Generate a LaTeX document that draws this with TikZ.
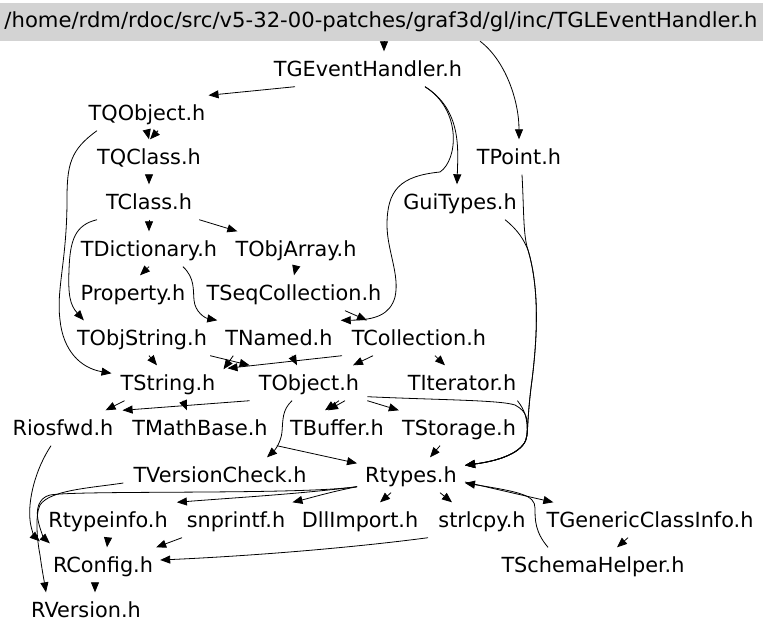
\documentclass[tikz,border=0pt]{standalone}
\usepackage{fontspec}
\usepackage{graphicx}
\setmainfont{DejaVu Sans}
\usetikzlibrary{arrows.meta}
\definecolor{rootgray}{RGB}{211,211,211}
\begin{document}
\begin{tikzpicture}[
	x=1pt, y=-1pt,
	font=\fontsize{20.8}{24}\selectfont,
	hdr/.style={ anchor=base, inner xsep=3pt, inner ysep=2.5pt, text height=22pt, text depth=8pt },
	rootbox/.style={ fill=rootgray, minimum width=764pt, minimum height=38pt, inner sep=0pt, text height=16pt, text depth=5pt },
	inc/.style={ draw, line width=0.8pt, -{Triangle[length=10pt,width=8pt]} }
]
\useasboundingbox (0,0) rectangle (768,632);

% headers are placed on their baselines

\node at (381,22) (file) [rootbox] {\resizebox{753pt}{\height}{/home/rdm/rdoc/src/v5-32-00-patches/graf3d/gl/inc/TGLEventHandler.h}};
\node at (368,76) (tgeh) [hdr] {TGEventHandler.h};
\node at (147,120) (tqobject) [hdr] {TQObject.h};
\node at (149,164) (tqclass) [hdr] {TQClass.h};
\node at (519,164) (tpoint) [hdr] {TPoint.h};
\node at (149,209) (tclass) [hdr] {TClass.h};
\node at (460,209) (guitypes) [hdr] {GuiTypes.h};
\node at (149,256) (tdict) [hdr] {TDictionary.h};
\node at (296,256) (tobjarray) [hdr] {TObjArray.h};
\node at (133,300) (property) [hdr] {Property.h};
\node at (294,300) (tseqcoll) [hdr] {TSeqCollection.h};
\node at (142,345) (tobjstring) [hdr] {TObjString.h};
\node at (279,345) (tnamed) [hdr] {TNamed.h};
\node at (419,345) (tcollection) [hdr] {TCollection.h};
\node at (168,390) (tstring) [hdr] {TString.h};
\node at (309,390) (tobject) [hdr] {TObject.h};
\node at (462,390) (titerator) [hdr] {TIterator.h};
\node at (63,435) (riosfwd) [hdr] {Riosfwd.h};
\node at (200,435) (tmathbase) [hdr] {TMathBase.h};
\node at (337,435) (tbuffer) [hdr] {TBuffer.h};
\node at (459,435) (tstorage) [hdr] {TStorage.h};
\node at (220,482) (tversion) [hdr] {TVersionCheck.h};
\node at (411,482) (rtypes) [hdr] {Rtypes.h};
\node at (108,527) (rtypeinfo) [hdr] {Rtypeinfo.h};
\node at (236,527) (snprintf) [hdr] {snprintf.h};
\node at (360,527) (dllimport) [hdr] {DllImport.h};
\node at (482,527) (strlcpy) [hdr] {strlcpy.h};
\node at (650,527) (tgeneric) [hdr] {TGenericClassInfo.h};
\node at (103,572) (rconfig) [hdr] {RConfig.h};
\node at (593,572) (tschema) [hdr] {TSchemaHelper.h};
\node at (86,617) (rversion) [hdr] {RVersion.h};

\draw[inc] ([xshift=3pt]file.south) to ([xshift=16pt]tgeh.north);
\draw[inc] ([xshift=99pt]file.south) .. controls (505,60) and (519,100) .. (tpoint.north);
\draw[inc] ([xshift=-73pt]tgeh.south) to (tqobject.north east);
\draw[inc] ([xshift=57pt]tgeh.south) .. controls (462,110) and (458,150) .. ([xshift=-3pt]guitypes.north);
\draw[inc] ([xshift=57pt]tgeh.south) .. controls (462,110) and (458,160) .. (440,172) .. controls (400,176) and (387,190) .. (387,225) .. controls (387,250) and (400,275) .. (395,297) .. controls (390,315) and (375,320) .. ([xshift=5pt]tnamed.north east);
\draw[inc] (tqobject.south) to (tqclass.north);
\draw[inc] ([xshift=11pt]tqobject.south) to ([xshift=1pt]tqclass.north);
\draw[inc] ([xshift=-50pt]tqobject.south) .. controls (70,150) and (67,165) .. (67,200) .. controls (67,260) and (56,290) .. (60,320) .. controls (63,350) and (80,368) .. ([shift={(-6,8)}]tstring.north west);
\draw[inc] (tqclass.south) to (tclass.north);
\draw[inc] (tclass.south) to (tdict.north);
\draw[inc] ([xshift=4pt]tclass.south east) to ([xshift=5pt]tobjarray.north west);
\draw[inc] ([xshift=-52pt]tclass.south) .. controls (75,225) and (70,240) .. (69,270) .. controls (68,295) and (70,305) .. ([xshift=10pt]tobjstring.north west);
\draw[inc] (tdict.south) to ([xshift=7pt]property.north);
\draw[inc] ([xshift=34pt]tdict.south) .. controls (195,278) and (193,290) .. (194,300) .. controls (195,312) and (205,318) .. ([xshift=-5pt]tnamed.north west);
\draw[inc] (tobjarray.south) to (tseqcoll.north);
\draw[inc] ([xshift=51pt]tseqcoll.south) to ([xshift=-52pt]tcollection.north);
\draw[inc] ([xshift=7pt]tobjstring.south) to ([xshift=-11pt]tstring.north);
\draw[inc] (tobjstring.south east) to ([xshift=-6pt]tobject.north west);
\draw[inc] ([xshift=11pt]tnamed.south west) to ([shift={(5,4)}]tstring.north east);
\draw[inc] ([xshift=13pt]tnamed.south) to ([xshift=-12pt]tobject.north);
\draw[inc] ([xshift=-77pt]tcollection.south) to ([shift={(9,3)}]tstring.north east);
\draw[inc] ([xshift=-46pt]tcollection.south) to ([xshift=44pt]tobject.north);
\draw[inc] ([xshift=16pt]tcollection.south) to ([xshift=-17pt]titerator.north);
\draw[inc] ([xshift=7pt]tstring.south west) to ([xshift=-11pt]riosfwd.north east);
\draw[inc] ([xshift=15pt]tstring.south) to ([xshift=-13pt]tmathbase.north);
\draw[inc] ([xshift=-6pt]tobject.south west) to ([xshift=6pt]riosfwd.north east);
\draw[inc] ([xshift=30pt]tobject.south) to ([xshift=-12pt]tbuffer.north);
\draw[inc] ([xshift=36pt]tobject.south) to ([xshift=-9pt]tbuffer.north);
\draw[inc] ([xshift=5pt]tobject.south east) to (tstorage.north west);

% into Rtypes.h round the right side
\draw[inc] ([shift={(5,-4)}]tobject.south east) .. controls (440,400) and (500,400) .. (515,405) .. controls (528,412) and (528,420) .. (527,435) .. controls (526,450) and (505,460) .. ([shift={(5,8)}]rtypes.north east);
\draw[inc] ([xshift=-2pt]titerator.south east) .. controls (525,410) and (528,420) .. (527,435) .. controls (526,450) and (505,460) .. ([shift={(5,8)}]rtypes.north east);
\draw[inc] ([xshift=3pt]tpoint.south) .. controls (524,210) and (523,235) .. (528,250) .. controls (540,290) and (537,340) .. (532,380) .. controls (528,410) and (528,425) .. (527,435) .. controls (526,450) and (505,460) .. ([shift={(5,8)}]rtypes.north east);
\draw[inc] ([xshift=45pt]guitypes.south) .. controls (518,230) and (524,240) .. (528,250) .. controls (540,290) and (537,340) .. (532,380) .. controls (528,410) and (528,425) .. (527,435) .. controls (526,450) and (505,460) .. ([shift={(5,8)}]rtypes.north east);
\draw[inc] ([xshift=-19pt]tstorage.south) to ([xshift=19pt]rtypes.north);
\draw[inc] ([xshift=-17pt]tobject.south) .. controls (282,410) and (283,420) .. (282,432) .. controls (281,442) and (275,450) .. ([xshift=47pt]tversion.north);
\draw[inc] ([xshift=6pt]tmathbase.south east) to ([shift={(-5,6)}]rtypes.north west);

% bottom rows
\draw[inc] ([shift={(-7,8)}]tversion.west) .. controls (90,488) and (50,490) .. (40,505) .. controls (35,515) and (37,540) .. (40,555) .. controls (42,570) and (44,580) .. ([xshift=18pt]rversion.north west);
\draw[inc] ([xshift=-12pt]riosfwd.south) .. controls (35,470) and (28,500) .. (30,520) .. controls (31,530) and (35,537) .. ([shift={(-10,-6)}]rconfig.north west);
\draw[inc] ([shift={(-5,-6)}]rtypes.south west) .. controls (300,495) and (80,490) .. (50,495) .. controls (38,498) and (36,510) .. (38,520) .. controls (40,530) and (44,538) .. ([shift={(0,-4)}]rconfig.north west);
\draw[inc] ([shift={(-5,-6)}]rtypes.south west) .. controls (300,494) and (230,498) .. ([xshift=6pt]rtypeinfo.north east);
\draw[inc] ([shift={(-5,-6)}]rtypes.south west) .. controls (330,492) and (310,498) .. ([xshift=4pt]snprintf.north east);
\draw[inc] ([xshift=-20pt]rtypes.south) to ([xshift=20pt]dllimport.north);
\draw[inc] ([xshift=29pt]rtypes.south) to ([xshift=-30pt]strlcpy.north);
\draw[inc] ([shift={(5,7)}]rtypes.east) to ([xshift=10pt]tgeneric.north west);
\draw[inc] ([xshift=-45pt]tschema.north) .. controls (535,532) and (535,520) .. (535,508) .. controls (535,495) and (520,492) .. ([shift={(5,8)}]rtypes.east);
\draw[inc] ([xshift=-22pt]tgeneric.south) to ([xshift=24pt]tschema.north);
\draw[inc] (rtypeinfo.south) to ([xshift=4pt]rconfig.north);
\draw[inc] ([xshift=-54pt]snprintf.south) to (rconfig.north east);
\draw[inc] ([xshift=-54pt]strlcpy.south) .. controls (350,548) and (250,556) .. ([shift={(4,-5)}]rconfig.east);
\draw[inc] ([xshift=-8pt]rconfig.south) to ([xshift=9pt]rversion.north);

\end{tikzpicture}
\end{document}
